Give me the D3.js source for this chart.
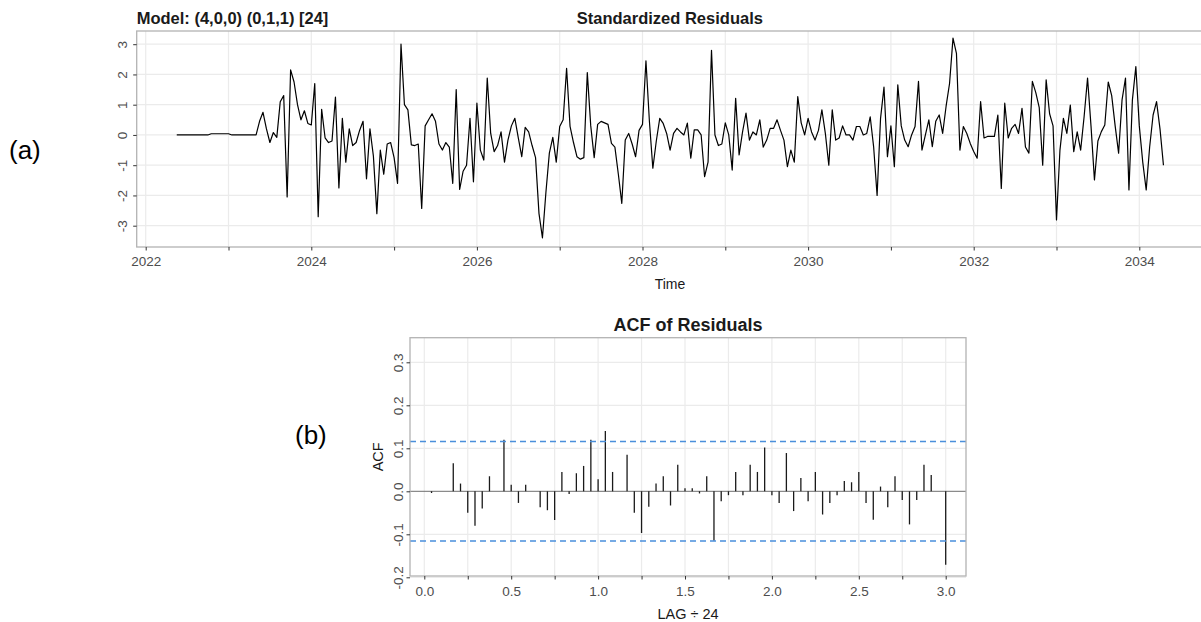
<!DOCTYPE html>
<html>
<head>
<meta charset="utf-8">
<script src="https://cdn.jsdelivr.net/npm/d3@7"></script>
<style>
  body { margin: 0; background: #fff; }
  svg { display: block; font-family: "Liberation Sans", Arial, sans-serif; }
</style>
</head>
<body>
<script>
// standardized residuals, ts start 2022.375, frequency 24
const tsStart = 2022.375
const tsFreq = 24
const resid = [
  0,0,0,0,0,0,0,0,0,0,
  0.04,0.04,0.04,0.04,0.04,0.04,
  0,0,0,0,0,0,0,0,
  0.45,0.75,0.2,-0.25,0.08,-0.08,1.1,1.3,-2.05,2.15,
  1.75,1.0,0.5,0.8,0.38,0.33,1.7,-2.7,0.85,-0.1,
  -0.25,-0.2,1.25,-1.75,0.55,-0.9,0.2,-0.35,-0.25,0.15,
  0.45,-1.45,0.2,-0.7,-2.6,-0.5,-1.3,-0.3,-0.25,-0.75,
  -1.6,3.0,1.0,0.83,-0.33,-0.35,-0.3,-2.43,0.3,0.5,
  0.7,0.45,-0.3,-0.5,-0.25,-0.4,-1.6,1.5,-1.8,-1.2,
  -1.0,0.55,-1.55,1.05,-0.5,-0.83,1.88,0.05,-0.55,-0.35,
  0.1,-0.9,-0.17,0.3,0.55,-0.1,-0.72,0.25,0.1,-0.35,
  -0.75,-2.6,-3.4,-1.9,-0.6,-0.08,-0.9,0.28,0.5,2.2,
  0.28,-0.25,-0.72,-0.8,-0.75,2.06,0.3,-0.75,0.35,0.45,
  0.4,0.35,-0.28,-0.4,-1.3,-2.26,-0.17,0.05,-0.3,-0.72,
  0.15,0.35,2.45,0.45,-1.1,-0.2,0.55,0.38,0.05,-0.5,
  0.05,0.22,0.1,0.0,0.39,-0.77,0.17,0.17,0.0,-1.38,
  -0.9,2.8,0.0,-0.35,-0.3,0.4,0.0,-1.16,1.21,-0.66,
  0.1,0.72,-0.17,0.1,0.0,0.5,-0.4,-0.17,0.22,0.22,
  0.5,0.15,-0.17,-1.05,-0.5,-0.9,1.27,0.4,0.0,0.55,
  0.1,-0.17,0.15,0.83,0.05,-1.0,0.83,-0.17,-0.1,0.3,
  0.0,0.0,-0.17,0.28,0.28,0.0,0.05,0.6,-0.4,-2.0,
  0.55,1.58,-0.72,0.3,-1.05,1.66,0.3,-0.17,-0.39,0.0,
  0.28,1.77,-0.5,0.0,0.5,-0.39,0.45,0.66,0.05,0.95,
  1.7,3.2,2.7,-0.5,0.28,0.05,-0.28,-0.55,-0.77,1.1,
  -0.1,-0.05,-0.05,-0.05,0.66,-1.77,1.05,-0.1,0.22,0.35,
  0.05,0.88,-0.4,-0.6,1.77,1.4,0.9,-1.0,1.82,0.7,
  0.3,-2.81,-0.5,0.55,0.05,0.99,-0.55,0.1,-0.5,0.6,
  1.88,0.3,-1.49,-0.2,0.11,0.33,1.75,1.3,0.3,-0.6,
  1.16,1.88,-1.82,1.16,2.26,0.3,-0.9,-1.82,-0.4,0.66,
  1.1,0.2,-1.0
]

// acf of residuals, lags 1..72
const acfVals = [
  -0.004,0.0,0.0,0.065,0.018,-0.05,-0.08,-0.04,0.035,0.0,
  0.12,0.015,-0.027,0.015,0.0,-0.037,-0.044,-0.067,0.045,-0.006,
  0.042,0.059,0.12,0.028,0.14,0.045,0.0,0.085,-0.05,-0.097,
  -0.036,0.018,0.035,-0.033,0.062,0.007,0.007,-0.005,0.035,-0.115,
  -0.023,-0.009,0.045,-0.009,0.062,0.045,0.102,-0.009,-0.027,0.089,
  -0.046,0.031,-0.023,0.045,-0.054,-0.027,-0.009,0.024,0.021,0.045,
  -0.027,-0.066,0.011,-0.037,0.035,-0.02,-0.077,-0.02,0.062,0.038,
  0.0,-0.171
]
const ciLimit = 0.1157

const yearTicks = d3.range(2022, 2035)
const residTicks = [-3, -2, -1, 0, 1, 2, 3]
const lagTicks = d3.range(0, 3.01, 0.25)
const acfTicks = [-0.2, -0.1, 0.0, 0.1, 0.2, 0.3]

const gridCol = "#ebebeb"
const borderCol = "#b3b3b3"
const tickCol = "#4d4d4d"

let svg = d3.select("body").append("svg")
    .attr("width", 1201)
    .attr("height", 622)

// ---------- (a) standardized residuals
let pa = {left: 136.7, top: 31, right: 1203, bottom: 247}
let xT = d3.scaleLinear().domain([2022, 2034]).range([145.7, 1139.3])
let yT = d3.scaleLinear().domain([-3, 3]).range([225.7, 44.2])

let ga = svg.append("g")
ga.selectAll(".vg").data(yearTicks).enter().append("line")
    .attr("x1", d=>xT(d)).attr("x2", d=>xT(d))
    .attr("y1", pa.top).attr("y2", pa.bottom)
    .attr("stroke", gridCol).attr("stroke-width", 1.2)
ga.selectAll(".hg").data(residTicks).enter().append("line")
    .attr("x1", pa.left).attr("x2", pa.right)
    .attr("y1", d=>yT(d)).attr("y2", d=>yT(d))
    .attr("stroke", gridCol).attr("stroke-width", 1.2)

let line = d3.line()
    .x((d, i)=>xT(tsStart + i/tsFreq))
    .y(d=>yT(d))
ga.append("path")
    .datum(resid)
    .attr("d", line)
    .attr("fill", "none")
    .attr("stroke", "#000")
    .attr("stroke-width", 1.2)
    .attr("stroke-linejoin", "round")

ga.append("rect")
    .attr("x", pa.left).attr("y", pa.top)
    .attr("width", pa.right-pa.left).attr("height", pa.bottom-pa.top)
    .attr("fill", "none").attr("stroke", borderCol).attr("stroke-width", 1.3)

let xAxisT = d3.axisBottom(xT).tickValues(yearTicks)
    .tickFormat(d=>d%2===0 ? String(d) : "").tickSize(3.5).tickPadding(6.2)
let gxT = ga.append("g").attr("transform", `translate(0,${pa.bottom})`).call(xAxisT)
let yAxisT = d3.axisLeft(yT).tickValues(residTicks).tickFormat(d=>String(d)).tickSize(3.5)
let gyT = ga.append("g").attr("transform", `translate(${pa.left},0)`).call(yAxisT)
gyT.selectAll("text")
    .attr("x", 0).attr("y", -10).attr("dy", 0)
    .attr("transform", "rotate(-90)")
    .style("text-anchor", "middle")

ga.append("text").attr("x", pa.left).attr("y", 23.5)
    .attr("font-size", 16.5).attr("font-weight", "bold").attr("fill", "#1a1a1a")
    .text("Model: (4,0,0) (0,1,1) [24]")
ga.append("text").attr("x", (pa.left+pa.right)/2).attr("y", 23.5)
    .attr("text-anchor", "middle")
    .attr("font-size", 16.5).attr("font-weight", "bold").attr("fill", "#1a1a1a")
    .text("Standardized Residuals")
ga.append("text").attr("x", 670).attr("y", 289)
    .attr("text-anchor", "middle").attr("font-size", 14).attr("fill", "#1a1a1a")
    .text("Time")

// ---------- (b) acf
let pb = {left: 410, top: 337.7, right: 966, bottom: 576}
let xB = d3.scaleLinear().domain([0, 3]).range([424.3, 945.7])
let yB = d3.scaleLinear().domain([-0.2, 0.3]).range([577.3, 362.3])

let gb = svg.append("g")
gb.selectAll(".vg").data(lagTicks).enter().append("line")
    .attr("x1", d=>xB(d)).attr("x2", d=>xB(d))
    .attr("y1", pb.top).attr("y2", pb.bottom)
    .attr("stroke", gridCol).attr("stroke-width", 1.2)
gb.selectAll(".hg").data(acfTicks.filter(d=>d!==0)).enter().append("line")
    .attr("x1", pb.left).attr("x2", pb.right)
    .attr("y1", d=>yB(d)).attr("y2", d=>yB(d))
    .attr("stroke", gridCol).attr("stroke-width", 1.2)

gb.append("line")
    .attr("x1", pb.left).attr("x2", pb.right)
    .attr("y1", yB(0)).attr("y2", yB(0))
    .attr("stroke", "#6e6e6e").attr("stroke-width", 1)

gb.selectAll(".bar").data(acfVals).enter().append("line")
    .attr("x1", (d, i)=>xB((i+1)/tsFreq)).attr("x2", (d, i)=>xB((i+1)/tsFreq))
    .attr("y1", yB(0)).attr("y2", d=>yB(d))
    .attr("stroke", "#1a1a1a").attr("stroke-width", 1.3)

gb.selectAll(".ci").data([ciLimit, -ciLimit]).enter().append("line")
    .attr("x1", pb.left).attr("x2", pb.right)
    .attr("y1", d=>yB(d)).attr("y2", d=>yB(d))
    .attr("stroke", "#4a8fdb").attr("stroke-width", 1.4)
    .attr("stroke-dasharray", "6,4")

gb.append("rect")
    .attr("x", pb.left).attr("y", pb.top)
    .attr("width", pb.right-pb.left).attr("height", pb.bottom-pb.top)
    .attr("fill", "none").attr("stroke", borderCol).attr("stroke-width", 1.3)

let xAxisB = d3.axisBottom(xB).tickValues(lagTicks)
    .tickFormat(d=>(d*2)%1===0 ? d.toFixed(1) : "").tickSize(3.5).tickPadding(7)
let gxB = gb.append("g").attr("transform", `translate(0,${pb.bottom})`).call(xAxisB)
let yAxisB = d3.axisLeft(yB).tickValues(acfTicks).tickFormat(d=>d.toFixed(1)).tickSize(3.5)
let gyB = gb.append("g").attr("transform", `translate(${pb.left},0)`).call(yAxisB)
gyB.selectAll("text")
    .attr("x", 0).attr("y", -7.5).attr("dy", 0)
    .attr("transform", "rotate(-90)")
    .style("text-anchor", "middle")

gb.append("text").attr("x", (pb.left+pb.right)/2).attr("y", 330.5)
    .attr("text-anchor", "middle")
    .attr("font-size", 18).attr("font-weight", "bold").attr("fill", "#1a1a1a")
    .text("ACF of Residuals")
gb.append("text").attr("x", (pb.left+pb.right)/2).attr("y", 619)
    .attr("text-anchor", "middle").attr("font-size", 14.5).attr("fill", "#1a1a1a")
    .text("LAG ÷ 24")
gb.append("text")
    .attr("transform", `translate(383,${(pb.top+pb.bottom)/2}) rotate(-90)`)
    .attr("text-anchor", "middle").attr("font-size", 14.5).attr("fill", "#1a1a1a")
    .text("ACF")

// axis styling
svg.selectAll(".domain").remove()
svg.selectAll(".tick line").attr("stroke", "#333")
svg.selectAll(".tick text")
    .attr("fill", tickCol)
    .style("font-size", "13.5px")
    .style("font-family", "Liberation Sans, Arial, sans-serif")

// panel labels
svg.append("text").attr("x", 9).attr("y", 159)
    .attr("font-size", 26).attr("fill", "#000").text("(a)")
svg.append("text").attr("x", 295).attr("y", 444)
    .attr("font-size", 26).attr("fill", "#000").text("(b)")
</script>
</body>
</html>
